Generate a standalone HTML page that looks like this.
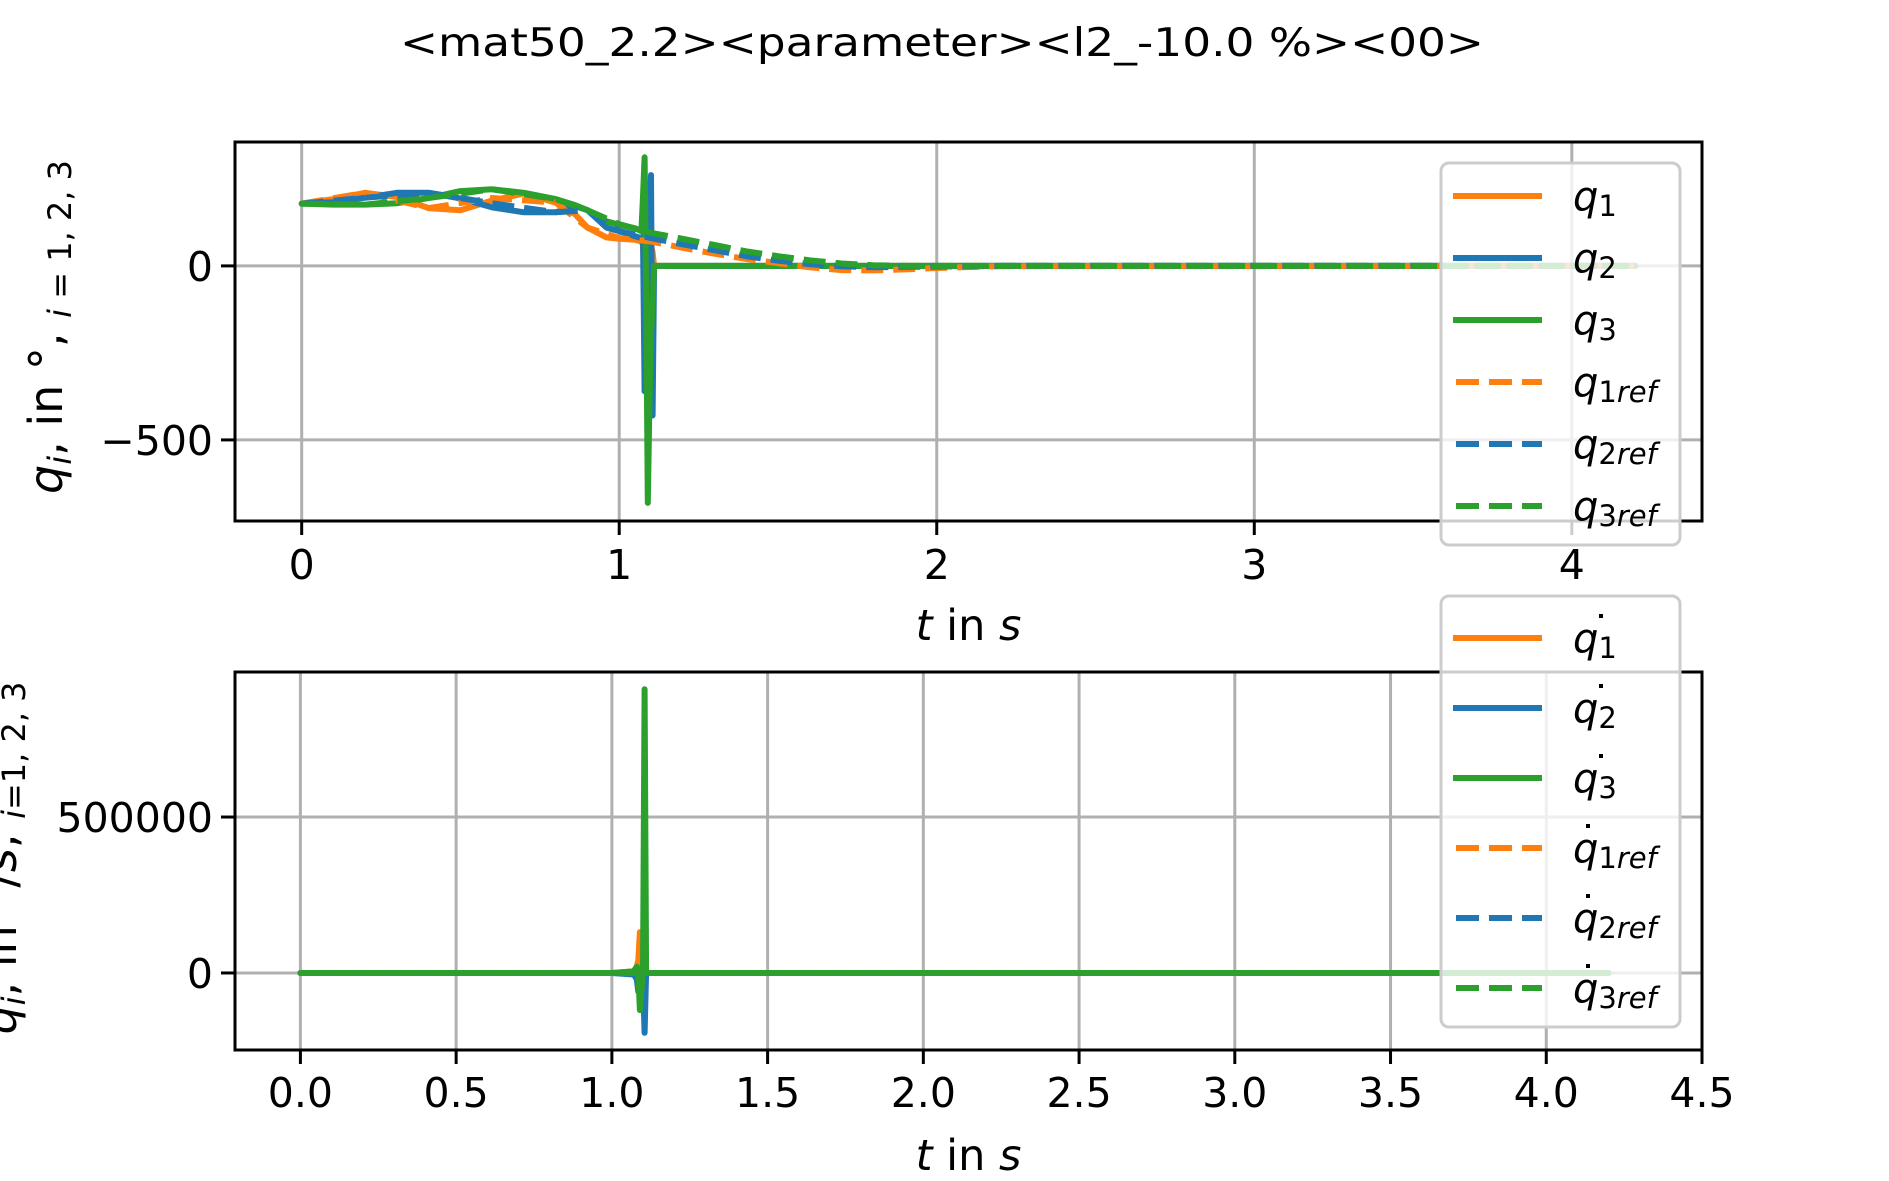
<!DOCTYPE html>
<html><head><meta charset="utf-8"><style>
html,body{margin:0;padding:0;background:#fff;}
svg{display:block;font-family:"DejaVu Sans","Liberation Sans",sans-serif;}
</style></head><body>
<svg id="fig" width="1889" height="1181" viewBox="0 0 1889 1181" xmlns="http://www.w3.org/2000/svg">
<rect width="1889" height="1181" fill="#fff"/>
<text x="942" y="56" text-anchor="middle" font-size="39" textLength="1084" lengthAdjust="spacingAndGlyphs">&lt;mat50_2.2&gt;&lt;parameter&gt;&lt;l2_-10.0 %&gt;&lt;00&gt;</text>
<g id="top"></g>
<g id="bot"></g>
<text transform="translate(62,327) rotate(-90)" text-anchor="middle" font-size="46"><tspan font-style="italic">q</tspan><tspan font-style="italic" font-size="32" dy="9">i</tspan><tspan dy="-9">,  in °,  </tspan><tspan font-style="italic" font-size="32" dy="9">i</tspan><tspan font-size="32"> = 1, 2, 3</tspan></text>
<text transform="translate(16,858) rotate(-90)" text-anchor="middle" font-size="46"><tspan font-style="italic">q</tspan><tspan font-style="italic" font-size="32" dy="9">i</tspan><tspan dy="-9">, in °/</tspan><tspan font-style="italic">s</tspan><tspan>,  </tspan><tspan font-style="italic" font-size="32" dy="9">i</tspan><tspan font-size="32">=1, 2, 3</tspan></text>
</svg>
<script>
// ---- top chart data ----
const tTop = [0,0.1,0.2,0.3,0.4,0.5,0.6,0.7,0.8,0.86,0.9,0.96,1.0,1.05,1.07,1.075,1.08,1.085,1.09,1.095,1.1,1.105,1.11,1.115,4.2];
const q1 = [179,192,210,198,166,160,188,208,182,149,110,82,78,75,70,60,-60,40,70,50,60,40,0,0,0];
const q2 = [179,183,196,210,210,194,168,154,154,172,160,110,100,85,80,85,-360,-100,60,200,261,-430,0,0,0];
const q3 = [179,176,176,180,195,215,220,210,192,175,160,128,118,108,100,200,312,-100,-681,-400,-200,-100,0,0,0];
const tRef = [0,0.2,0.4,0.6,0.8,0.9,1.0,1.1,1.2,1.3,1.4,1.5,1.6,1.7,1.8,1.9,2.0,2.2,4.2];
const r1 = [179,210,166,195,182,110,80,70,52,35,20,8,-4,-12,-13,-10,-6,-1,0];
const r2 = [179,196,210,180,154,160,100,80,62,45,28,15,5,-1,-4,-3,-2,0,0];
const r3 = [179,176,195,220,192,160,120,95,78,60,42,28,16,7,2,0,0,0,0];
const topXTicks = [0,1,2,3,4];
const topYTicks = [0,-500];
const topYTickLabels = ["0","\u2212500"];
// ---- bottom chart data ----
const tBot = [0,1.0,1.07,1.08,1.085,1.09,1.095,1.1,1.105,1.11,1.115,1.2,4.2];
const d1 = [0,0,5000,20000,40000,131000,-20000,0,50000,0,0,0,0];
const d2 = [0,0,-5000,-20000,-60000,-40000,-100000,-30000,-192000,0,0,0,0];
const d3 = [0,0,5000,20000,0,-119000,-50000,0,910000,0,0,0,0];
const tBotRef = [0,4.2];
const dr = [0,0];
const botXTicks = [0,0.5,1.0,1.5,2.0,2.5,3.0,3.5,4.0,4.5];
const botXTickLabels = ["0.0","0.5","1.0","1.5","2.0","2.5","3.0","3.5","4.0","4.5"];
const botYTicks = [0,500000];
const botYTickLabels = ["0","500000"];

const NS="http://www.w3.org/2000/svg";
const C={o:"#ff7f0e",b:"#1f77b4",g:"#2ca02c"};
function mk(tag,attrs,parent){const e=document.createElementNS(NS,tag);for(const k in attrs)e.setAttribute(k,attrs[k]);parent.appendChild(e);return e;}
function scale(d0,d1,p0,p1){return v=>p0+(v-d0)/(d1-d0)*(p1-p0);}

function drawAxes(g,cfg){
  const {L,R,T,B,x,y,xt,xtl,yt,ytl,lines,xlabBase,tickBase,leg}=cfg;
  const clipId=g.id+"clip";
  const cp=mk("clipPath",{id:clipId},g);mk("rect",{x:L,y:T,width:R-L,height:B-T},cp);
  xt.forEach((v,i)=>{
    const gl=mk("line",{x1:x(v),x2:x(v),y1:T,y2:B,stroke:"#b0b0b0","stroke-width":3},g);
    
    
  });
  yt.forEach((v,i)=>{
    const gl=mk("line",{x1:L,x2:R,y1:y(v),y2:y(v),stroke:"#b0b0b0","stroke-width":3},g);
    
    
  });
  const lg=mk("g",{"clip-path":"url(#"+clipId+")"},g);
  lines.forEach(s=>{
    const d=s.t.map((tv,i)=>(i?"L":"M")+x(tv).toFixed(1)+","+y(s.v[i]).toFixed(1)).join("");
    const p=mk("path",{d:d,fill:"none",stroke:s.c,"stroke-width":6,"stroke-linejoin":"round","stroke-linecap":s.dash?"butt":"round"},lg);
    if(s.dash)p.setAttribute("stroke-dasharray","22 10");
    
    
  });
  const fr=mk("rect",{x:L,y:T,width:R-L,height:B-T,fill:"none",stroke:"#000","stroke-width":3},g);
  
  
  xt.forEach((v,i)=>{
    mk("line",{x1:x(v),x2:x(v),y1:B,y2:B+14,stroke:"#000","stroke-width":3},g);
    const t=mk("text",{x:x(v),y:tickBase,"text-anchor":"middle","font-size":41},g);
    t.textContent=xtl[i];
    
    
  });
  yt.forEach((v,i)=>{
    mk("line",{x1:L-14,x2:L,y1:y(v),y2:y(v),stroke:"#000","stroke-width":3},g);
    const t=mk("text",{x:L-22,y:y(v)+15,"text-anchor":"end","font-size":41},g);
    t.textContent=ytl[i];
    
    
  });
  const xl=mk("text",{x:(L+R)/2,y:xlabBase,"text-anchor":"middle","font-size":43},g);
  xl.innerHTML='<tspan font-style="italic">t</tspan> in <tspan font-style="italic">s</tspan>';
  
  
  // legend
  const lgG=mk("g",{},g);
  
  
  mk("rect",{x:leg.x,y:leg.y,width:leg.w,height:leg.h,rx:8,fill:"rgba(255,255,255,0.8)",stroke:"#cccccc","stroke-width":3},lgG);
  leg.items.forEach((it,i)=>{
    const ly=leg.y0+i*leg.dy;
    const ln=mk("line",{x1:leg.x+12,x2:leg.x+101,y1:ly,y2:ly,stroke:it.c,"stroke-width":6},lgG);
    if(it.dash){ln.setAttribute("stroke-dasharray","23 10");ln.setAttribute("x1",leg.x+15);}
    const tx=mk("text",{x:leg.x+132,y:ly+14,"font-size":40},lgG);
    tx.innerHTML='<tspan font-style="italic">q</tspan><tspan font-size="29" dy="6">'+it.n+'</tspan>'+(it.dash?'<tspan font-size="29" font-style="italic">ref</tspan>':'');
    
    
    if(leg.dot){
      const dx=it.dash?leg.x+147:leg.x+160;
      mk("rect",{x:dx-2,y:ly-24,width:4,height:4,fill:"#000"},lgG);
    }
  });
}

// top axes
{
 const L=235,R=1702,T=142,B=521;
 const x=scale(-0.21,4.41,L,R), y=scale(-733,356,B,T);
 drawAxes(document.getElementById("top"),{L,R,T,B,x,y,xt:topXTicks,xtl:topXTicks.map(String),yt:topYTicks,ytl:topYTickLabels,
  tickBase:579,xlabBase:640,
  lines:[{t:tTop,v:q1,c:C.o,name:"q1-line"},{t:tTop,v:q2,c:C.b,name:"q2-line"},{t:tTop,v:q3,c:C.g,name:"q3-line"},
         {t:tRef,v:r1,c:C.o,dash:1,name:"q1ref-line"},{t:tRef,v:r2,c:C.b,dash:1,name:"q2ref-line"},{t:tRef,v:r3,c:C.g,dash:1,name:"q3ref-line"}],
  leg:{x:1441,y:163,w:239,h:382,y0:196,dy:62,dot:false,items:[{c:C.o,n:"1"},{c:C.b,n:"2"},{c:C.g,n:"3"},{c:C.o,n:"1",dash:1},{c:C.b,n:"2",dash:1},{c:C.g,n:"3",dash:1}]}});
}
// bottom axes
{
 const L=235,R=1702,T=672,B=1050;
 const x=scale(-0.21,4.5,L,R), y=scale(-247000,965000,B,T);
 drawAxes(document.getElementById("bot"),{L,R,T,B,x,y,xt:botXTicks,xtl:botXTickLabels,yt:botYTicks,ytl:botYTickLabels,
  tickBase:1107,xlabBase:1170,
  lines:[{t:tBot,v:d1,c:C.o,name:"dq1-line"},{t:tBot,v:d2,c:C.b,name:"dq2-line"},{t:tBot,v:d3,c:C.g,name:"dq3-line"},
         {t:tBotRef,v:dr,c:C.o,dash:1,name:"dq1ref-line"},{t:tBotRef,v:dr,c:C.b,dash:1,name:"dq2ref-line"},{t:tBotRef,v:dr,c:C.g,dash:1,name:"dq3ref-line"}],
  leg:{x:1441,y:596,w:239,h:431,y0:638,dy:70,dot:true,items:[{c:C.o,n:"1"},{c:C.b,n:"2"},{c:C.g,n:"3"},{c:C.o,n:"1",dash:1},{c:C.b,n:"2",dash:1},{c:C.g,n:"3",dash:1}]}});
}
</script>
</body></html>
